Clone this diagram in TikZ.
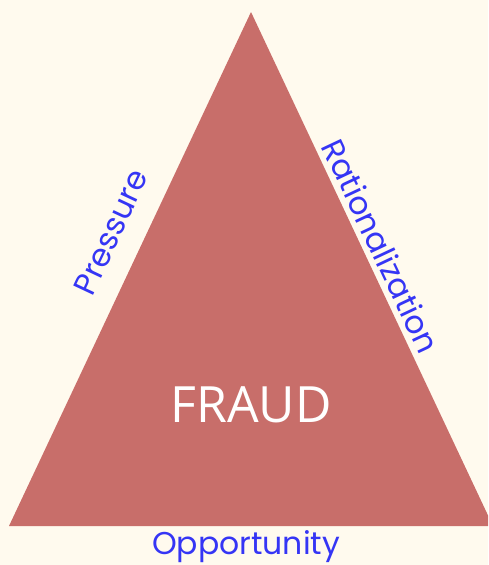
\documentclass[tikz,border=0pt]{standalone}
\usepackage{fontspec}
\setmainfont{Poppins}
\newfontfamily\fraudfont{Open Sans}
\definecolor{paper}{HTML}{FFFAEE}
\definecolor{fraudred}{HTML}{C86E6A}
\definecolor{labelblue}{HTML}{3535F5}
\begin{document}
\begin{tikzpicture}[x=1pt,y=-1pt,
  side/.style={text=labelblue,font=\fontsize{31.5}{31.5}\selectfont,inner sep=0pt}]
\fill[paper] (0,0) rectangle (488,565);
\useasboundingbox (0,0) rectangle (488,565);
\coordinate (top) at (251,12);
\coordinate (bl) at (9,526);
\coordinate (br) at (493,526);
\begin{scope}
\clip (0,0) rectangle (488,565);
\fill[fraudred] (top)--(bl)--(br)--cycle;
\end{scope}
\node[text=white,font=\fraudfont\fontsize{50}{50}\selectfont] (fraud) at (251,405) {FRAUD};
\node[side,rotate=64.8] (pressure) at (111,232) {Pressure};
\node[side,rotate=-64.8] (rational) at (381,246) {Rationalization};
\node[side] (opp) at (246,547) {Opportunity};
\end{tikzpicture}
\end{document}
